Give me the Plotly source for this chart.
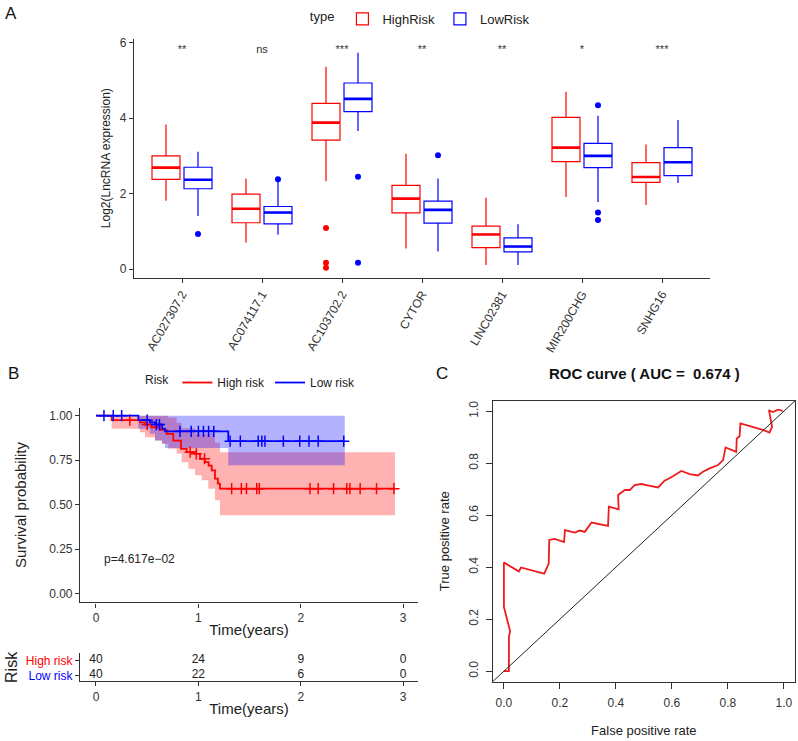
import plotly.graph_objects as go
import numpy as np

FONT = "Liberation Sans, Arial, sans-serif"
W, H = 798, 741

# ---------------- Panel A data ----------------
genes = ["AC027307.2", "AC074117.1", "AC103702.2", "CYTOR", "LINC02381", "MIR200CHG", "SNHG16"]
signif = ["**", "ns", "***", "**", "**", "*", "***"]
high_lowerfence = [1.81, 0.71, 2.33, 0.55, 0.11, 1.91, 1.70]
high_q1 = [2.38, 1.23, 3.42, 1.49, 0.57, 2.85, 2.30]
high_median = [2.69, 1.60, 3.88, 1.87, 0.92, 3.22, 2.44]
high_q3 = [3.00, 1.99, 4.39, 2.22, 1.14, 4.02, 2.82]
high_upperfence = [3.83, 2.40, 5.36, 3.06, 1.89, 4.70, 3.30]
high_outliers = {"AC103702.2": [1.09, 0.17, 0.04]}
low_lowerfence = [1.41, 0.91, 3.66, 0.47, 0.11, 1.78, 2.28]
low_q1 = [2.13, 1.20, 4.17, 1.22, 0.46, 2.69, 2.48]
low_median = [2.37, 1.50, 4.51, 1.57, 0.60, 3.00, 2.83]
low_q3 = [2.70, 1.66, 4.93, 1.80, 0.83, 3.33, 3.22]
low_upperfence = [3.11, 2.33, 5.73, 2.40, 1.19, 4.06, 3.95]
low_outliers = {"AC027307.2": [0.93], "AC074117.1": [2.38], "AC103702.2": [2.45, 0.17],
                "CYTOR": [3.02], "MIR200CHG": [4.34, 1.50, 1.30]}
signif_y = 5.8

# ---------------- Panel B data ----------------
high_time = [0, 0.153, 0.43, 0.479, 0.543, 0.625, 0.69, 0.755, 0.83, 0.886, 0.967, 1.016,
             1.064, 1.10, 1.13, 1.162, 1.19, 1.21, 2.92]
high_surv = [1.0, 0.975, 0.962, 0.95, 0.935, 0.92, 0.898, 0.86, 0.814, 0.795, 0.786, 0.758,
             0.739, 0.72, 0.693, 0.646, 0.618, 0.59, 0.59]
high_lower_time = [0, 0.153, 0.43, 0.479, 0.576, 0.641, 0.706, 0.788, 0.837, 0.902, 0.967,
                   1.032, 1.097, 1.162, 1.211, 2.92]
high_lower = [1.0, 0.926, 0.907, 0.879, 0.86, 0.842, 0.814, 0.786, 0.739, 0.702, 0.665,
              0.637, 0.59, 0.525, 0.441, 0.441]
high_upper_time = [0, 0.706, 0.788, 0.837, 0.967, 1.162, 1.211, 2.92]
high_upper = [1.0, 0.99, 0.96, 0.93, 0.90, 0.85, 0.795, 0.795]
high_censor = [0.33, 0.50, 0.92, 0.98, 1.06, 1.325, 1.42, 1.47, 1.57, 1.595, 2.09, 2.17,
               2.32, 2.45, 2.48, 2.58, 2.74, 2.91]

low_time = [0, 0.414, 0.527, 0.576, 0.648, 0.674, 1.292, 2.43]
low_surv = [1.0, 0.975, 0.962, 0.95, 0.926, 0.912, 0.857, 0.857]
low_lower_time = [0, 0.414, 0.527, 0.576, 0.648, 0.674, 1.292, 2.43]
low_lower = [1.0, 0.926, 0.898, 0.86, 0.842, 0.818, 0.722, 0.722]
low_upper_time = [0, 2.43]
low_upper = [1.0, 1.0]
low_censor = [0.078, 0.169, 0.251, 0.50, 0.59, 0.62, 0.82, 0.93, 1.0, 1.05, 1.10, 1.15,
              1.31, 1.41, 1.585, 1.62, 1.65, 1.83, 1.99, 2.08, 2.17, 2.42]

pval_text = "p=4.617e\u221202"
risk_times = [0, 1, 2, 3]
high_at_risk = [40, 24, 9, 0]
low_at_risk = [40, 22, 6, 0]

# ---------------- Panel C data ----------------
roc_fpr = [0.0, 0.018, 0.018, 0.0225, 0.0, 0.0, 0.0535, 0.061, 0.144, 0.16, 0.162, 0.182,
           0.215, 0.218, 0.253, 0.271, 0.289, 0.313, 0.372, 0.375, 0.41, 0.408, 0.432, 0.45,
           0.467, 0.491, 0.509, 0.551, 0.574, 0.598, 0.634, 0.664, 0.693, 0.711, 0.735, 0.765,
           0.783, 0.792, 0.83, 0.832, 0.842, 0.845, 0.928, 0.949, 0.958, 0.947, 0.961, 0.979, 0.996]
roc_tpr = [0.0, 0.0, 0.134, 0.153, 0.247, 0.418, 0.384, 0.399, 0.375, 0.413, 0.505, 0.509,
           0.497, 0.543, 0.533, 0.541, 0.536, 0.572, 0.559, 0.633, 0.623, 0.678, 0.697, 0.697,
           0.716, 0.72, 0.716, 0.707, 0.733, 0.746, 0.77, 0.758, 0.753, 0.767, 0.78, 0.793,
           0.812, 0.861, 0.844, 0.895, 0.904, 0.953, 0.927, 0.918, 0.94, 1.004, 0.997, 1.006, 1.001]
auc_value = 0.674

RED = "#FF0000"
BLUE = "#0000FF"
AX = "#333333"


def px_x(p):
    return p / W


def px_y(p):
    return 1 - p / H


def step_eval(times, vals, t):
    idx = 0
    for i, tt in enumerate(times):
        if tt <= t:
            idx = i
    return vals[idx]


fig = go.Figure()

# ---------------- Panel A ----------------
pos = np.arange(1, len(genes) + 1)
dodge = 0.2
bw = 0.35
for name, col, sign, lf, q1, med, q3, uf, outl in [
    ("HighRisk", RED, -1, high_lowerfence, high_q1, high_median, high_q3, high_upperfence, high_outliers),
    ("LowRisk", BLUE, 1, low_lowerfence, low_q1, low_median, low_q3, low_upperfence, low_outliers),
]:
    xs = list(pos + sign * dodge)
    fig.add_trace(go.Box(
        x=xs, q1=q1, median=med, q3=q3, lowerfence=lf, upperfence=uf,
        width=bw, name=name, line=dict(color=col, width=1.2),
        fillcolor="rgba(255,255,255,0)", xaxis="x", yaxis="y",
        legend="legend", showlegend=True, hoverinfo="skip", whiskerwidth=0,
    ))
    fig.add_trace(go.Scatter(
        x=xs, y=med, mode="markers", xaxis="x", yaxis="y", showlegend=False,
        marker=dict(symbol="line-ew", size=20, line=dict(color=col, width=2.6)),
        hoverinfo="skip",
    ))
    ox, oy = [], []
    for i, g in enumerate(genes):
        for v in outl.get(g, []):
            ox.append(xs[i])
            oy.append(v)
    fig.add_trace(go.Scatter(
        x=ox, y=oy, mode="markers", xaxis="x", yaxis="y", showlegend=False,
        marker=dict(color=col, size=6), hoverinfo="skip",
    ))

fig.add_trace(go.Scatter(
    x=list(pos), y=[signif_y] * len(genes), text=signif, mode="text",
    textfont=dict(size=11, color=AX, family=FONT), xaxis="x", yaxis="y",
    showlegend=False, hoverinfo="skip",
))


# ---------------- Panel B ----------------
def band(times_lo, lo, times_hi, hi, end):
    grid = sorted(set(times_lo) | set(times_hi))
    grid = [g for g in grid if g <= end]
    ylo = [step_eval(times_lo, lo, g) for g in grid]
    yhi = [step_eval(times_hi, hi, g) for g in grid]
    return grid, ylo, yhi


for col, fcol, tl, lo, th, hi, end in [
    (RED, "rgba(255,0,0,0.3)", high_lower_time, high_lower, high_upper_time, high_upper, high_time[-1]),
    (BLUE, "rgba(0,0,255,0.3)", low_lower_time, low_lower, low_upper_time, low_upper, low_time[-1]),
]:
    g, ylo, yhi = band(tl, lo, th, hi, end)
    fig.add_trace(go.Scatter(x=g, y=ylo, mode="lines", line=dict(width=0, shape="hv"),
                             xaxis="x2", yaxis="y2", showlegend=False, hoverinfo="skip"))
    fig.add_trace(go.Scatter(x=g, y=yhi, mode="lines", line=dict(width=0, shape="hv"),
                             fill="tonexty", fillcolor=fcol,
                             xaxis="x2", yaxis="y2", showlegend=False, hoverinfo="skip"))

for name, col, t, s, cens in [
    ("High risk", RED, high_time, high_surv, high_censor),
    ("Low risk", BLUE, low_time, low_surv, low_censor),
]:
    fig.add_trace(go.Scatter(x=t, y=s, mode="lines", line=dict(color=col, width=1.8, shape="hv"),
                             xaxis="x2", yaxis="y2", name=name, legend="legend2",
                             showlegend=True, hoverinfo="skip"))
    fig.add_trace(go.Scatter(
        x=cens, y=[step_eval(t, s, c) for c in cens], mode="markers",
        marker=dict(symbol="cross-thin", size=8, line=dict(color=col, width=1.5)),
        xaxis="x2", yaxis="y2", showlegend=False, hoverinfo="skip"))

fig.add_annotation(x=0.06, y=0.195, xref="x2", yref="y2", text=pval_text, showarrow=False,
                   xanchor="left", font=dict(size=12, color="#222", family=FONT))

# risk table
for yv, vals in [(2, high_at_risk), (1, low_at_risk)]:
    fig.add_trace(go.Scatter(x=risk_times, y=[yv] * 4, text=[str(v) for v in vals], mode="text",
                             textfont=dict(size=12, color="#222", family=FONT),
                             xaxis="x3", yaxis="y3", showlegend=False, hoverinfo="skip"))

# ---------------- Panel C ----------------
fig.add_shape(type="line", x0=-0.04, y0=-0.04, x1=1.04, y1=1.04, xref="x4", yref="y4",
              line=dict(color="#222", width=1))
fig.add_trace(go.Scatter(x=roc_fpr, y=roc_tpr, mode="lines", line=dict(color="#EE1C1C", width=1.8),
                         xaxis="x4", yaxis="y4", showlegend=False, hoverinfo="skip"))

# ---------------- Layout ----------------
axis_common = dict(showline=True, linecolor=AX, linewidth=1.2, ticks="outside", tickcolor=AX,
                   showgrid=False, zeroline=False, tickfont=dict(size=12, color="#333", family=FONT))

fig.update_layout(
    width=W, height=H, margin=dict(l=0, r=0, t=0, b=0),
    paper_bgcolor="white", plot_bgcolor="white",
    font=dict(family=FONT, color="#222"),
    boxmode="overlay",
    xaxis=dict(**axis_common, domain=[px_x(134), px_x(710)], anchor="y", range=[0.4, 7.6],
               tickvals=list(pos), ticktext=genes, tickangle=-60, ticklen=4),
    yaxis=dict(**axis_common, domain=[px_y(276), px_y(36)], anchor="x", range=[-0.22, 6.1],
               tickvals=[0, 2, 4, 6], ticklen=4,
               title=dict(text="Log2(LncRNA expression)", font=dict(size=12, family=FONT, color="#222"), standoff=6)),
    xaxis2=dict(**axis_common, domain=[px_x(80), px_x(418)], anchor="y2", range=[-0.156, 3.145],
                tickvals=[0, 1, 2, 3], ticklen=4,
                title=dict(text="Time(years)", font=dict(size=15, family=FONT, color="#222"), standoff=0)),
    yaxis2=dict(**axis_common, domain=[px_y(602.7), px_y(406.7)], anchor="x2", range=[-0.049, 1.046],
                tickvals=[0, 0.25, 0.5, 0.75, 1.0], ticktext=["0.00", "0.25", "0.50", "0.75", "1.00"],
                ticklen=4,
                title=dict(text="Survival probability", font=dict(size=15, family=FONT, color="#222"), standoff=18)),
    xaxis3=dict(**axis_common, domain=[px_x(80), px_x(418)], anchor="y3", range=[-0.156, 3.145],
                tickvals=[0, 1, 2, 3], ticklen=4,
                title=dict(text="Time(years)", font=dict(size=15, family=FONT, color="#222"), standoff=0)),
    yaxis3=dict(**axis_common, domain=[px_y(682), px_y(654)], anchor="x3", range=[0.6, 2.467],
                tickvals=[1, 2], ticklen=4,
                ticktext=['<span style="color:blue">Low risk</span>', '<span style="color:red">High risk</span>'],
                title=dict(text="Risk", font=dict(size=16, family=FONT, color="#222"), standoff=4)),
    xaxis4=dict(**axis_common, domain=[px_x(492.7), px_x(795)], anchor="y4", range=[-0.04, 1.04],
                mirror=True, tickvals=[0, 0.2, 0.4, 0.6, 0.8, 1.0],
                ticktext=["0.0", "0.2", "0.4", "0.6", "0.8", "1.0"], ticklen=6, ticklabelstandoff=4,
                title=dict(text="False positive rate", font=dict(size=13, family=FONT, color="#222"), standoff=16)),
    yaxis4=dict(**axis_common, domain=[px_y(682.3), px_y(400)], anchor="x4", range=[-0.04, 1.04],
                mirror=True, tickvals=[0, 0.2, 0.4, 0.6, 0.8, 1.0],
                ticktext=["0.0", "0.2", "0.4", "0.6", "0.8", "1.0"], ticklen=6, tickangle=-90,
                ticklabelstandoff=3,
                title=dict(text="True positive rate", font=dict(size=13, family=FONT, color="#222"), standoff=14)),
    legend=dict(orientation="h", x=0.528, xanchor="center", y=px_y(1), yanchor="top",
                traceorder="normal", itemwidth=30,
                title=dict(text="type", font=dict(size=13, family=FONT)),
                font=dict(size=13, family=FONT, color="#222"), bgcolor="rgba(0,0,0,0)"),
    legend2=dict(orientation="h", x=px_x(252), xanchor="center", y=px_y(367), yanchor="top",
                 traceorder="normal", itemwidth=30,
                 title=dict(text="Risk", font=dict(size=12, family=FONT)),
                 font=dict(size=12, family=FONT, color="#222"), bgcolor="rgba(0,0,0,0)"),
)

for txt, x, y, sz in [("A", 11, 11, 17), ("B", 13, 373, 17), ("C", 442, 373, 17)]:
    fig.add_annotation(x=px_x(x), y=px_y(y), xref="paper", yref="paper", text=txt, showarrow=False,
                       xanchor="center", yanchor="middle", font=dict(size=sz, family=FONT, color="#111"))
fig.add_annotation(x=px_x(644), y=px_y(373), xref="paper", yref="paper",
                   text="<b>ROC curve ( AUC =  %.3f )</b>" % auc_value, showarrow=False,
                   xanchor="center", yanchor="middle", font=dict(size=15, family=FONT, color="#111"))

fig.write_html("out.html", config={"displayModeBar": False},
               post_script="document.body.style.margin='0px';")
